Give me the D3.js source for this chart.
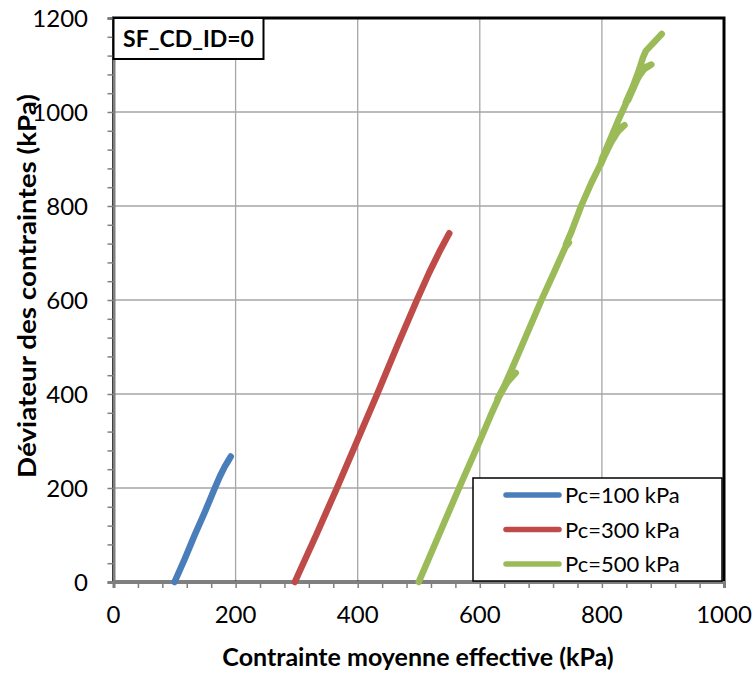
<!DOCTYPE html>
<html>
<head>
<meta charset="utf-8">
<script src="https://cdn.jsdelivr.net/npm/d3@7/dist/d3.min.js"></script>
<style>
  html, body { margin: 0; padding: 0; background: #fff; }
  svg { display: block; font-family: Lato, "Open Sans", sans-serif; }
</style>
</head>
<body>
<svg id="chart" width="754" height="677"></svg>
<script>
// ---- data ----
const seriesNames = ["Pc=100 kPa", "Pc=300 kPa", "Pc=500 kPa"];
const seriesColors = ["#4A7EBB", "#BE4B48", "#9BBB59"];
const xTicks = [0, 200, 400, 600, 800, 1000];
const yTicks = [0, 200, 400, 600, 800, 1000, 1200];
const pc100 = [[100,0],[117,50],[133,100],[150,150],[166,200],[174,224],[182,245],[188,258],[192,267]];
const pc300 = [[297,0],[332,100],[366,200],[399,300],[432,400],[464,500],[497,600],[517,658],[534,703],[550,742]];
const pc500 = [[500,0],[533,100],[566,200],[600,300],[618,355],[632,395],[645,425],[659,445],[649,433],[637,408],[629,390],
  [640,417],[652,452],[668,500],[701,600],[722,660],[740,712],[746,722],[741,718],[750,745],[766,800],[783,850],[800,895],[815,935],
  [826,958],[837,972],[826,962],[812,930],[798,888],[800,900],[813,940],[826,980],[840,1020],[854,1060],[866,1088],[881,1101],
  [872,1096],[860,1075],[843,1025],[839,1020],[851,1055],[861,1090],[867,1115],[872,1130],[885,1148],[898,1166]];
const allSeries = [pc100, pc300, pc500];
const titleText = "SF_CD_ID=0";
const xLabel = "Contrainte moyenne effective (kPa)";
const yLabel = "Déviateur des contraintes (kPa)";

// ---- layout ----
const L = 113.5, R = 724, T = 18, B = 582;
const svg = d3.select("#chart");
const x = d3.scaleLinear().domain([0, 1000]).range([L, R]);
const y = d3.scaleLinear().domain([0, 1200]).range([B, T]);

// gridlines
const grid = svg.append("g");
grid.selectAll("line.v").data(xTicks.slice(1, -1)).enter().append("line")
  .attr("x1", d => x(d)).attr("x2", d => x(d)).attr("y1", T).attr("y2", B)
  .attr("stroke", "#A6A6A6").attr("stroke-width", 1.3);
grid.selectAll("line.h").data(yTicks.slice(1, -1)).enter().append("line")
  .attr("x1", L).attr("x2", R).attr("y1", d => y(d)).attr("y2", d => y(d))
  .attr("stroke", "#A6A6A6").attr("stroke-width", 1.3);

// plot border
svg.append("rect").attr("x", L).attr("y", T).attr("width", R - L).attr("height", B - T)
  .attr("fill", "none").attr("stroke", "#000").attr("stroke-width", 3);

// axes (minor ticks every 40)
const xMinor = d3.range(0, 1001, 40);
const yMinor = d3.range(0, 1201, 40);
const xAxis = svg.append("g").attr("transform", `translate(0,${B})`)
  .call(d3.axisBottom(x).tickValues(xMinor).tickSize(6).tickFormat(""));
const yAxis = svg.append("g").attr("transform", `translate(${L},0)`)
  .call(d3.axisLeft(y).tickValues(yMinor).tickSize(6).tickFormat(""));
[xAxis, yAxis].forEach(a => {
  a.select(".domain").attr("stroke", "#7F7F7F").attr("stroke-width", 3);
  a.selectAll(".tick line").attr("stroke", "#7F7F7F").attr("stroke-width", 1.5);
});

// tick labels
svg.append("g").selectAll("text").data(xTicks).enter().append("text")
  .attr("x", d => x(d)).attr("y", 623).attr("text-anchor", "middle")
  .attr("font-size", 24).attr("fill", "#000").text(d => d);
svg.append("g").selectAll("text").data(yTicks).enter().append("text")
  .attr("x", 88).attr("y", d => y(d) + 8.5).attr("text-anchor", "end")
  .attr("font-size", 24).attr("fill", "#000").text(d => d);

// series lines
const line = d3.line().x(d => x(d[0])).y(d => y(d[1]));
const plotClip = svg.append("g");
allSeries.forEach((s, i) => {
  plotClip.append("path").datum(s).attr("d", line)
    .attr("fill", "none").attr("stroke", seriesColors[i]).attr("stroke-width", 6.5)
    .attr("stroke-linecap", "round").attr("stroke-linejoin", "round");
});

// title box
svg.append("rect").attr("x", L).attr("y", T).attr("width", 150).attr("height", 41)
  .attr("fill", "#fff").attr("stroke", "#000").attr("stroke-width", 2);
svg.append("text").attr("x", L + 75).attr("y", T + 29).attr("text-anchor", "middle")
  .attr("font-size", 23).attr("font-weight", "bold").text(titleText);

// legend
const lg = svg.append("g");
lg.append("rect").attr("x", 473).attr("y", 478).attr("width", 249).attr("height", 103)
  .attr("fill", "#fff").attr("stroke", "#000").attr("stroke-width", 1.5);
seriesNames.forEach((n, i) => {
  const yy = 495 + i * 34.5;
  lg.append("line").attr("x1", 506).attr("x2", 559).attr("y1", yy).attr("y2", yy)
    .attr("stroke", seriesColors[i]).attr("stroke-width", 5.5).attr("stroke-linecap", "round");
  lg.append("text").attr("x", 565).attr("y", yy + 8).attr("font-size", 22).text(n);
});

// axis titles
svg.append("text").attr("x", 418).attr("y", 666).attr("text-anchor", "middle")
  .attr("font-size", 25).attr("font-weight", "bold").text(xLabel);
svg.append("text").attr("transform", "translate(36,286) rotate(-90)").attr("text-anchor", "middle")
  .attr("font-size", 25).attr("font-weight", "bold")
  .attr("textLength", 384).attr("lengthAdjust", "spacingAndGlyphs").text(yLabel);
</script>
</body>
</html>
